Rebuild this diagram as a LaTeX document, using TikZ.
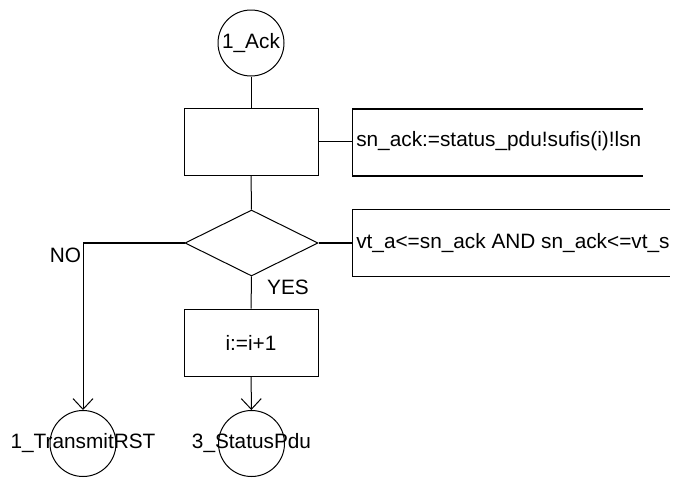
\documentclass[tikz,border=0pt]{standalone}
\usepackage{fontspec}
\setmainfont{Liberation Sans}
\usetikzlibrary{shapes.geometric,arrows.meta}
\begin{document}
\begin{tikzpicture}[x=0.75pt,y=-0.75pt,
  every node/.style={font=\fontsize{15.6}{18}\selectfont},
  line/.style={line width=0.75pt},
  thickline/.style={line width=1.5pt},
  conn/.style={draw,circle,line width=0.75pt,minimum size=49.5pt,inner sep=0pt},
  taskbox/.style={draw,rectangle,line width=0.75pt,minimum width=100.5pt,minimum height=50.25pt,inner sep=0pt},
  decision/.style={draw,diamond,line width=0.75pt,minimum width=99.75pt,minimum height=49.5pt,inner sep=0pt,aspect=2},
  arr/.style={-{Straight Barb[length=8pt,width=15pt]}}]
\useasboundingbox (0,0) rectangle (674,479);
\node[conn] (ack) at (251,43) {1\_Ack};
\node[taskbox] (task) at (251,141.5) {};
\node[decision] (dec) at (251.5,243) {};
\node[taskbox] (inc) at (251,342.5) {i:=i+1};
\node[conn] (rst) at (83,443.5) {};
\node (rstlabel) at (rst) {1\_TransmitRST};
\node[conn] (spdu) at (251.5,443.5) {};
\node (spdulabel) at (spdu) {3\_StatusPdu};
% comment 1
\coordinate (c1tl) at (352,108.5);
\coordinate (c1bl) at (352,175.5);
\coordinate (c1tr) at (643,108.5);
\coordinate (c1br) at (643,175.5);
\coordinate (c1l) at (352,141.5);
\draw[thickline] (c1tr) -- (c1tl);
\draw[line] (c1tl) -- (c1bl);
\draw[thickline] (c1bl) -- (c1br);
\node[anchor=west,inner sep=0pt] (t1) at (356,141.5) {sn\_ack:=status\_pdu!sufis(i)!lsn};
% comment 2
\coordinate (c2tl) at (352,209);
\coordinate (c2bl) at (352,276);
\coordinate (c2tr) at (670,209);
\coordinate (c2br) at (670,276);
\coordinate (c2l) at (352,243);
\draw[line] (c2tr) -- (c2tl) -- (c2bl) -- (c2br);
\node[anchor=west,inner sep=0pt] (t2) at (356,243) {vt\_a<=sn\_ack AND sn\_ack<=vt\_s};
% connectors
\draw[line] (ack) -- (task);
\draw[line] (task) -- (dec);
\draw[line] (dec) -- (inc);
\draw[line,arr] (inc) -- (spdu);
\draw[line] (task.east) -- (c1l);
\draw[thickline] (dec.east) -- (c2l);
\coordinate (nocorner) at (83,243);
\draw[thickline] (dec.west) -- (nocorner);
\draw[line,arr] (nocorner) -- (rst.north);
\node (no) at (65.5,255) {NO};
\node (yes) at (288,287) {YES};
\end{tikzpicture}
\end{document}
